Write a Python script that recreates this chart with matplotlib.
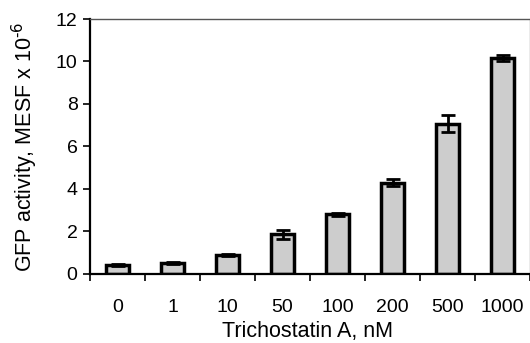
import matplotlib.pyplot as plt
import numpy as np

# data
doses = ["0", "1", "10", "50", "100", "200", "500", "1000"]
gfp = [0.42, 0.52, 0.90, 1.86, 2.80, 4.30, 7.07, 10.15]
err = [0.04, 0.05, 0.05, 0.20, 0.05, 0.16, 0.40, 0.15]

plt.rcParams['font.family'] = ['Liberation Sans', 'DejaVu Sans']

fig = plt.figure(figsize=(5.3, 3.43), dpi=100)
ax = fig.add_axes([0.17, 0.2012, 0.83, 0.7434])

x = np.arange(len(doses))
ax.bar(x, gfp, width=0.42, color="#cdcdcd", edgecolor="black", linewidth=2.5, zorder=2)
ax.errorbar(x, gfp, yerr=err, fmt="none", ecolor="black", elinewidth=2,
            capsize=5, capthick=2, zorder=3)

ax.set_xlim(-0.5, len(doses) - 0.5)
ax.set_ylim(0, 12)
ax.set_yticks(np.arange(0, 13, 2))
ax.set_xticks(x)
ax.set_xticklabels(doses)
ax.set_xticks(np.arange(len(doses) + 1) - 0.5, minor=True)
ax.tick_params(axis="x", which="major", length=0, pad=18, labelsize=14)
ax.tick_params(axis="x", which="minor", length=5, width=1.2, direction="out")
ax.tick_params(axis="y", length=5, width=1.2, direction="out", labelsize=14, pad=4)

for s in ["left", "bottom"]:
    ax.spines[s].set_linewidth(1.6)
ax.spines["top"].set_linewidth(1.0)
ax.spines["top"].set_color("#555555")
ax.spines["right"].set_linewidth(1.0)
ax.spines["right"].set_color("#999999")

ax.set_xlabel("Trichostatin A, nM", fontsize=15.5)
ax.xaxis.set_label_coords(0.495, -0.185)
ax.set_ylabel(r"GFP activity, MESF x 10$^{\text{-6}}$", fontsize=15.5)
ax.yaxis.set_label_coords(-0.115, 0.5)

fig.savefig("out.png", dpi=100)
